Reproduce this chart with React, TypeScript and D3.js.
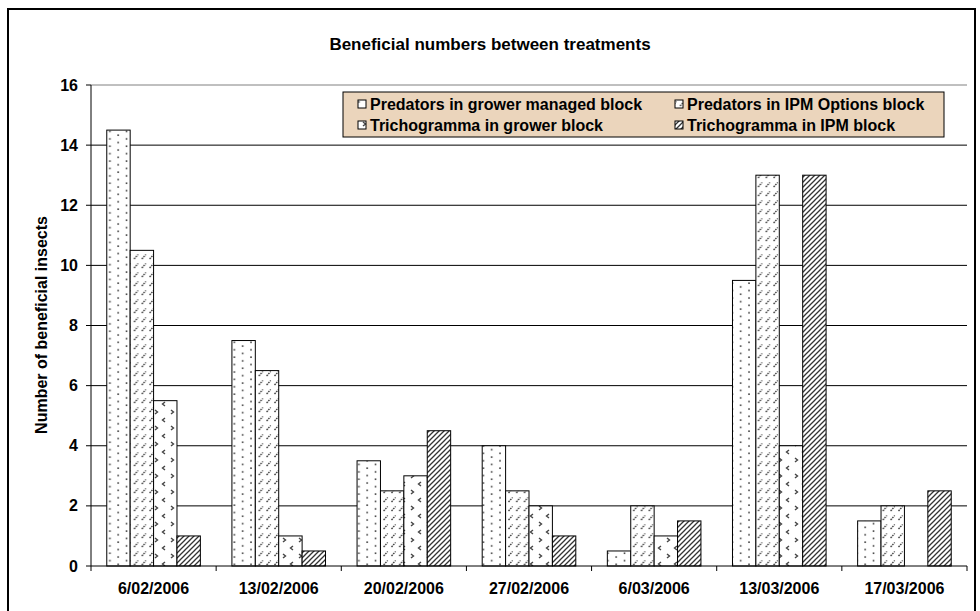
import React from "react";
import * as d3 from "d3";

const categories = ["6/02/2006", "13/02/2006", "20/02/2006", "27/02/2006", "6/03/2006", "13/03/2006", "17/03/2006"];
const seriesNames = [
  "Predators in grower managed block",
  "Predators in IPM Options block",
  "Trichogramma in grower block",
  "Trichogramma in IPM block",
];
const predGrower = [14.5, 7.5, 3.5, 4, 0.5, 9.5, 1.5];
const predIPM = [10.5, 6.5, 2.5, 2.5, 2, 13, 2];
const trichGrower = [5.5, 1, 3, 2, 1, 4, 0];
const trichIPM = [1, 0.5, 4.5, 1, 1.5, 13, 2.5];
const yTicks = [0, 2, 4, 6, 8, 10, 12, 14, 16];

const seriesValues = [predGrower, predIPM, trichGrower, trichIPM];
const patternIds = ["pDots", "pDash", "pChev", "pDiag"];

const W = 980;
const H = 611;
const M = { left: 91, right: 967, top: 85, bottom: 566 };
const FONT = "'Liberation Sans', Arial, sans-serif";

export default function App() {
  const x0 = d3
    .scaleBand<string>()
    .domain(categories)
    .range([M.left, M.right])
    .paddingInner(0)
    .paddingOuter(0);
  const gw = x0.bandwidth();
  const barW = 23.4;
  const inner = d3
    .scaleBand<number>()
    .domain([0, 1, 2, 3])
    .range([(gw - 4 * barW) / 2, (gw + 4 * barW) / 2])
    .padding(0);
  const y = d3.scaleLinear().domain([0, 16]).range([M.bottom, M.top]);

  const legendItems = seriesNames.map((n, i) => ({ n, i }));
  const legX = 343;
  const legY = 92;
  const legW = 601;
  const legH = 45;

  return (
    <div style={{ position: "absolute", left: 0, top: 0 }}>
      <svg width={W} height={H} style={{ display: "block", background: "#fff" }}>
        <defs>
          <pattern id="pDots" width={16.6} height={7.4} patternUnits="userSpaceOnUse">
            <rect width={16.6} height={7.4} fill="#fff" />
            <rect x={1.2} y={1.2} width={1.6} height={1.6} fill="#444" />
            <rect x={9.5} y={4.9} width={1.6} height={1.6} fill="#444" />
          </pattern>
          <pattern id="pDash" width={7.8} height={9} patternUnits="userSpaceOnUse">
            <rect width={7.8} height={9} fill="#fff" />
            <line x1={1.5} y1={7} x2={5.5} y2={2.5} stroke="#333" strokeWidth={1.3} strokeDasharray="1.6 1" />
          </pattern>
          <pattern id="pChev" width={16} height={16} patternUnits="userSpaceOnUse">
            <rect width={16} height={16} fill="#fff" />
            <path d="M5,2 L2.5,4 L5,6" fill="none" stroke="#444" strokeWidth={1.4} />
            <path d="M11,10 L13.5,12 L11,14" fill="none" stroke="#444" strokeWidth={1.4} />
          </pattern>
          <pattern id="pDiag" width={5} height={5} patternUnits="userSpaceOnUse">
            <rect width={5} height={5} fill="#fff" />
            <path d="M-1,6 L6,-1 M-1,1 L1,-1 M4,6 L6,4" stroke="#333" strokeWidth={1.3} />
          </pattern>
        </defs>

        {/* outer chart border */}
        <rect x={8} y={9} width={967} height={603} fill="#fff" stroke="#000" strokeWidth={2} />

        {/* title */}
        <text x={490} y={50} textAnchor="middle" fontFamily={FONT} fontWeight="bold" fontSize={17}>
          Beneficial numbers between treatments
        </text>

        {/* plot area top line (gray) */}
        <line x1={M.left} x2={M.right} y1={M.top} y2={M.top} stroke="#808080" strokeWidth={1} />

        {/* gridlines */}
        {yTicks.filter((t) => t > 0 && t < 16).map((t) => (
          <line key={t} x1={M.left} x2={M.right} y1={y(t)} y2={y(t)} stroke="#000" strokeWidth={1} />
        ))}

        {/* bars */}
        {categories.map((c, ci) => (
          <g key={c}>
            {seriesValues.map((vals, si) =>
              vals[ci] > 0 ? (
                <rect
                  key={si}
                  x={(x0(c) as number) + (inner(si) as number)}
                  y={y(vals[ci])}
                  width={barW}
                  height={y(0) - y(vals[ci])}
                  fill={`url(#${patternIds[si]})`}
                  stroke="#000"
                  strokeWidth={1}
                />
              ) : null
            )}
          </g>
        ))}

        {/* y axis */}
        <line x1={M.left} x2={M.left} y1={M.top} y2={M.bottom} stroke="#000" />
        {yTicks.map((t) => (
          <g key={t}>
            <line x1={M.left - 5} x2={M.left} y1={y(t)} y2={y(t)} stroke="#000" />
            <text x={M.left - 13} y={y(t) + 5.5} textAnchor="end" fontFamily={FONT} fontWeight="bold" fontSize={16}>
              {t}
            </text>
          </g>
        ))}
        <text
          transform={`translate(47, 325) rotate(-90)`}
          textAnchor="middle"
          fontFamily={FONT}
          fontWeight="bold"
          fontSize={16}
        >
          Number of beneficial insects
        </text>

        {/* x axis */}
        <line x1={M.left} x2={M.right} y1={M.bottom} y2={M.bottom} stroke="#000" />
        {categories.map((c) => (
          <line key={"t" + c} x1={x0(c) as number} x2={x0(c) as number} y1={M.bottom} y2={M.bottom + 5} stroke="#000" />
        ))}
        <line x1={M.right} x2={M.right} y1={M.bottom} y2={M.bottom + 5} stroke="#000" />
        {categories.map((c) => (
          <text
            key={"l" + c}
            x={(x0(c) as number) + gw / 2}
            y={594}
            textAnchor="middle"
            fontFamily={FONT}
            fontWeight="bold"
            fontSize={16}
          >
            {c}
          </text>
        ))}

        {/* legend */}
        <rect x={legX} y={legY} width={legW} height={legH} fill="#EBD5BC" stroke="#000" strokeWidth={1} />
        {legendItems.map(({ n, i }) => {
          const col = i % 2;
          const row = Math.floor(i / 2);
          const sx = col === 0 ? 358 : 675;
          const cy = legY + 12 + row * 21;
          return (
            <g key={n}>
              <rect x={sx} y={cy - 4} width={8} height={8} fill={`url(#${patternIds[i]})`} stroke="#000" strokeWidth={1} />
              <text x={sx + 12} y={cy + 5.5} fontFamily={FONT} fontWeight="bold" fontSize={16}>
                {n}
              </text>
            </g>
          );
        })}
      </svg>
    </div>
  );
}
